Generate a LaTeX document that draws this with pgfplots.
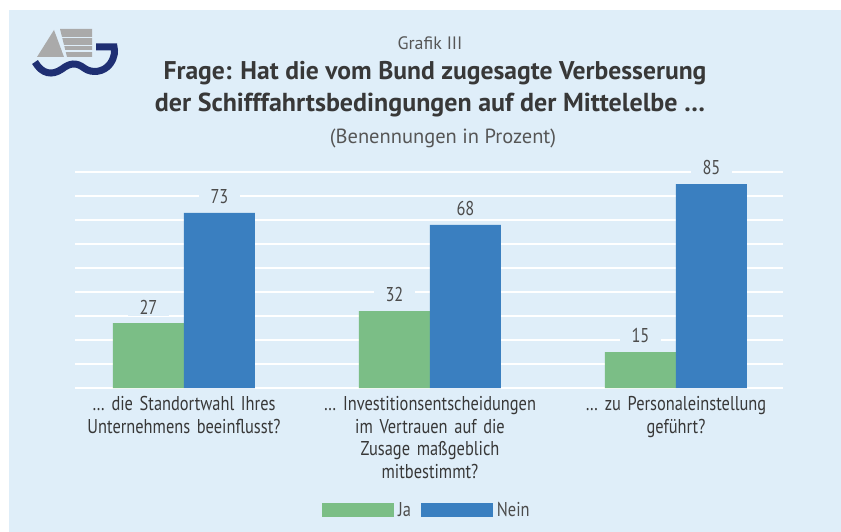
\documentclass[border=0pt]{standalone}
\usepackage{fontspec}
\setmainfont{PT Sans}[FakeStretch=0.82]
\newfontfamily\widefont{PT Sans}
\usepackage{pgfplots}
\pgfplotsset{compat=1.18}
\definecolor{panel}{HTML}{DFEEF9}
\definecolor{gruen}{HTML}{7BBE86}
\definecolor{blau}{HTML}{3A7FC0}
\definecolor{navy}{HTML}{1F2F73}
\definecolor{txt}{HTML}{383838}
\definecolor{logogray}{HTML}{AAAAAA}
\begin{document}
\begin{tikzpicture}
\fill[white] (-20pt,-20pt) rectangle (861pt,531pt);
\fill[panel] (9pt,-20pt) rectangle (861pt,521pt);
\begin{scope}[yshift=531pt,x=1pt,y=-1pt]
  % logo
  \fill[logogray] (54,30) -- (37,57) -- (64,57) -- cycle;
  \fill[logogray] (60,29) -- (92,29) -- (92,57) -- (67,57) -- cycle;
  \draw[panel, line width=1.3pt] (58,37.5) -- (93,37.5);
  \draw[panel, line width=1.3pt] (60,45.5) -- (93,45.5);
  \draw[panel, line width=1.3pt] (62,51) -- (93,51);
  \draw[navy, line width=7pt] (35,62) .. controls (42,74) and (52,76) .. (62,69)
     .. controls (70,63) and (76,62) .. (84,68) .. controls (92,74) and (104,72) .. (110,64)
     .. controls (115,57) and (115,51) .. (114,47) -- (96,47);
  % titles
  \node[anchor=base, font=\widefont\fontsize{18}{20}\selectfont, text=txt!85] at (430,50) {Grafik III};
  \node[anchor=base, font=\widefont\bfseries\fontsize{25.6}{30}\selectfont, text=txt] at (435,80)
     {Frage: Hat die vom Bund zugesagte Verbesserung};
  \node[anchor=base, font=\widefont\bfseries\fontsize{26}{30}\selectfont, text=txt] at (430,112)
     {der Schifffahrtsbedingungen auf der Mittelelbe \dots};
  \node[anchor=base, font=\widefont\fontsize{20.5}{22}\selectfont, text=txt!85] at (443,144) {(Benennungen in Prozent)};
\end{scope}
\begin{axis}[
  at={(75pt,143pt)}, anchor=south west,
  scale only axis, width=708pt, height=216pt,
  xmin=-0.443, xmax=2.435, ymin=0, ymax=90,
  ybar=0pt, bar width=71pt,
  axis line style={draw=none},
  major tick length=0pt,
  ytick={0,10,...,90}, yticklabels={},
  ymajorgrids, grid style={white, line width=1.8pt},
  xtick={0,1,2},
  xticklabels={{\dots\ die Standortwahl Ihres\\Unternehmens beeinflusst?},
               {\dots\ Investitionsentscheidungen\\im Vertrauen auf die\\Zusage maßgeblich\\mitbestimmt?},
               {\dots\ zu Personaleinstellung\\geführt?}},
  xticklabel style={align=center, text width=260pt, font=\fontsize{20}{22.5}\selectfont, text=txt, yshift=-5pt},
  nodes near coords,
  /pgf/number format/assume math mode=true,
  every node near coord/.append style={fill=panel, inner xsep=12pt, inner ysep=2pt, yshift=7pt,
      font=\fontsize{20}{22}\selectfont, text=txt!90},
  clip=false,
  legend style={at={(0.497,-0.565)}, anchor=center, draw=none, fill=none,
      legend columns=2, font=\fontsize{20}{22}\selectfont, text=txt!90,
      /tikz/every odd column/.append style={column sep=2pt},
      /tikz/every even column/.append style={column sep=8pt}},
  legend image code/.code={\fill[#1] (0pt,-7pt) rectangle (72pt,7pt);},
]
\addplot[fill=gruen, draw=none] coordinates {(0,27) (1,32) (2,15)};
\addplot[fill=blau, draw=none] coordinates {(0,73) (1,68) (2,85)};
\legend{Ja, Nein}
\end{axis}
\pgfresetboundingbox
\path[use as bounding box] (0,0) rectangle (841pt,531pt);
\end{tikzpicture}
\end{document}
